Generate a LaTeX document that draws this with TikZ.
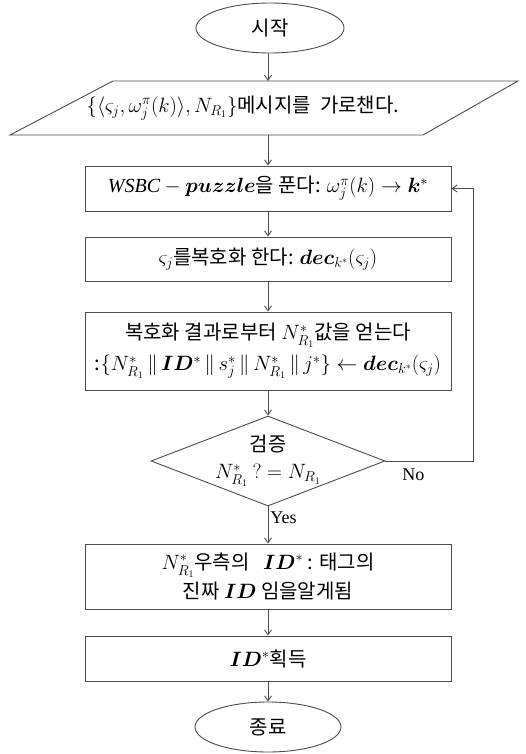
\documentclass[tikz,border=0pt]{standalone}
\usepackage{amsmath}
\usepackage{bm}
\usepackage{fontspec}
\setmainfont{Liberation Serif}
\newfontfamily\kr{Noto Sans CJK KR}
\usetikzlibrary{shapes.geometric,arrows.meta}
\begin{document}
\begin{tikzpicture}[x=1pt,y=-1pt,
  line width=0.9pt,
  shp/.style={draw=black!70, line width=0.9pt},
  box/.style={shp, rectangle, minimum width=366pt, inner sep=0pt, align=center, font=\kr\fontsize{20}{25}\selectfont},
  term/.style={shp, ellipse, inner sep=0pt, font=\kr\fontsize{20}{24}\selectfont},
  txt/.style={inner sep=0pt, align=center, font=\kr\fontsize{20}{25}\selectfont},
  lbl/.style={inner sep=2pt, font=\fontsize{18}{21}\selectfont},
  arr/.style={-{Straight Barb[length=5pt,width=7pt]}, draw=black!70, line width=0.9pt}]
\fill[white] (0,0) rectangle (526,754);
\useasboundingbox (0,0) rectangle (526,754);

\node[term, minimum width=148pt, minimum height=50pt] (start) at (270,28) {시작};

\coordinate (msgtop) at (268,81);
\coordinate (msgbot) at (268,135);
\draw[shp] (113,81) -- (518,81) -- (423,135) -- (10,135) -- cycle;
\node[txt] (msg) at (243,108) {$\{\langle\varsigma_j,\omega_j^{\pi}(k)\rangle,N_{R_1}\}$메시지를\ \ 가로챈다.};

\node[box, minimum height=45pt] (b1) at (268,188.5) {$\mathit{WSBC}-\bm{puzzle}$을 푼다: $\omega_j^{\pi}(k)\rightarrow\bm{k}^{*}$};
\node[box, minimum height=44pt] (b2) at (268,259) {$\varsigma_j$를복호화 한다: $\bm{dec}_{k^*}(\varsigma_j)$};
\node[box, minimum height=78pt] (b3) at (268,351) {복호화 결과로부터 $N^*_{R_1}$값을 얻는다\\[6pt]:$\{N^*_{R_1}\,\|\,\bm{ID}^*\,\|\,s^*_j\,\|\,N^*_{R_1}\,\|\,j^*\}\leftarrow\bm{dec}_{k^*}(\varsigma_j)$};
\node[shp, diamond, minimum width=234pt, minimum height=90pt, inner sep=0pt,
  label={[txt]center:검증\\[2pt]$N^*_{R_1}\ ?=N_{R_1}$}] (dia) at (268,461) {};
\node[box, minimum height=65pt] (b4) at (268,576.5) {$N^*_{R_1}$우측의\ \ \ $\bm{ID}^{*}$ : 태그의\\[4pt]진짜 $\bm{ID}$ 임을알게됨};
\node[box, minimum height=45pt] (b5) at (268,658.5) {$\bm{ID}^{*}$획득};
\node[term, minimum width=146pt, minimum height=50pt] (stop) at (268,727) {종료};

\draw[arr] (start.south -| msgtop) -- (msgtop);
\draw[arr] (msgbot) -- (b1);
\draw[arr] (b1) -- (b2);
\draw[arr] (b2) -- (b3);
\draw[arr] (b3) -- (dia);
\draw[arr] (dia) -- node[lbl, right, pos=0.3] {Yes} (b4);
\draw[arr] (b4) -- (b5);
\draw[arr] (b5) -- (stop);
\coordinate (fb) at (473,461);
\draw[arr] (dia.east) -- node[lbl, below, pos=0.32, yshift=-5pt] {No} (fb) |- (b1.east);
\end{tikzpicture}
\end{document}
